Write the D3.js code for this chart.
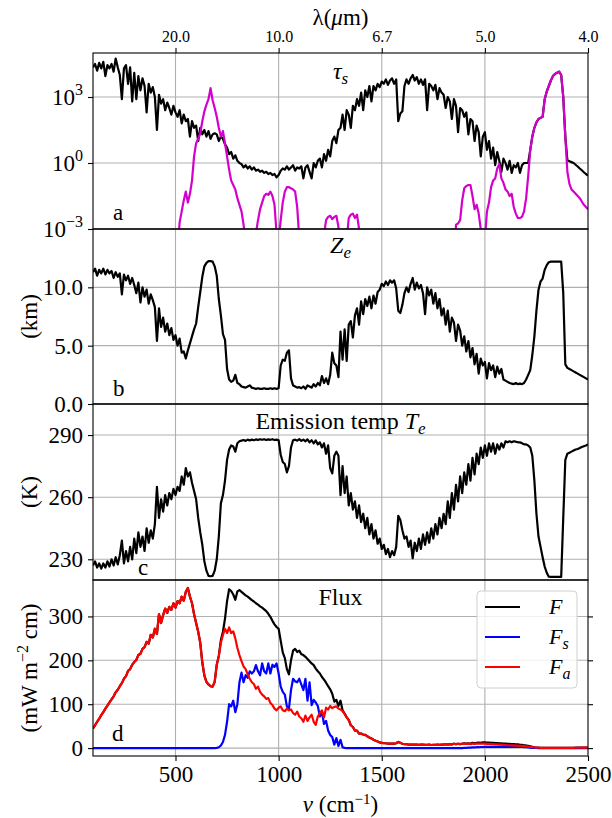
<!DOCTYPE html>
<html>
<head>
<meta charset="utf-8">
<script src="https://cdn.jsdelivr.net/npm/d3@7"></script>
<style>
  body { margin: 0; background: #fff; }
  svg { display: block; }
</style>
</head>
<body>
<div id="chart"></div>
<script>
// wavenumber grid (cm^-1), one value every 10 cm^-1
const wavenumber = d3.range(100, 2501, 10);

// panel a: log10 of optical depth, total (black) and the magenta band
const tauSLog = [
  4.35, 4.5, 4.2, 4.55, 4.3, 4.6, 3.95, 4.45, 4.3, 4.5,
  4.15, 4.75, 4.35, 4.0, 2.9, 4.3, 4.45, 3.6, 4.35, 2.8,
  4.1, 2.9, 3.95, 3.3, 3.85, 3.5, 2.3, 3.6, 3.2, 3.45,
  3.0, 1.5, 3.1, 2.7, 2.9, 2.4, 2.75, 2.5, 2.2, 2.6,
  2.3, 2.1, 2.4, 1.8, 2.2, 1.9, 2.0, 1.2, 1.9, 1.6,
  1.7, 1.0, 1.6, 1.3, 1.5, 1.2, 1.45, 1.1, 1.3, 1.35,
  1.3, 1.0, 1.2, 1.1, 0.85, 0.7, 0.4, 0.5, 0.2, 0.35,
  0.1, 0.0, -0.05, -0.2, -0.1, -0.25, -0.15, -0.3, -0.2, -0.35,
  -0.3, -0.4, -0.35, -0.45, -0.4, -0.5, -0.45, -0.55, -0.5, -0.65,
  -0.55, -0.35, -0.25, -0.3, -0.15, -0.3, -0.2, -0.1, -0.35, -0.2,
  -0.25, -0.15, -0.7, -0.2, -0.1, -0.4, -0.7, 0.0, -0.2, 0.1,
  0.2, -0.2, 0.4, 0.1, 0.6, 0.3, 1.0, 1.2, 0.9, 1.5,
  1.6, 2.2, 1.5, 2.4, 2.2, 1.6, 2.6, 2.4, 2.9, 2.6,
  3.2, 2.4, 3.3, 3.0, 3.5, 2.8, 3.5, 3.3, 3.6, 3.45,
  3.7, 3.6, 3.8, 3.55, 3.75, 3.85, 3.6, 3.8, 1.9, 2.25,
  2.35, 3.5, 3.8, 3.6, 3.85, 4.0, 3.75, 3.9, 3.6, 3.8,
  3.55, 3.8, 2.4, 3.6, 3.5, 3.3, 3.55, 2.9, 3.4, 3.2,
  3.1, 2.5, 3.0, 2.8, 2.0, 2.9, 2.6, 1.4, 2.5, 2.4,
  2.1, 2.3, 1.3, 2.0, 1.9, 1.0, 1.7, 1.4, 0.3, 1.2,
  1.4, 0.6, 1.0, 0.2, 0.7, -0.1, 0.5, 0.1, -0.4, 0.2,
  0.0, -0.3, 0.1, -0.45, -0.1, -0.2, 0.0, -0.45, -0.1, 0.0,
  0.0, 0.0, 0.6, 1.2, 1.6, 1.85, 2.0, 2.05, 2.1, 2.9,
  3.25, 3.5, 3.75, 3.95, 4.05, 4.1, 4.15, 4.0, 3.0, 1.2,
  0.12, 0.08, 0.04, 0.0, -0.08, -0.16, -0.25, -0.33, -0.42, -0.5,
  -0.57
];

const tauMLog = [
  -6, -6, -6, -6, -6, -6, -6, -6, -6, -6,
  -6, -6, -6, -6, -6, -6, -6, -6, -6, -6,
  -6, -6, -6, -6, -6, -6, -6, -6, -6, -6,
  -6, -6, -6, -6, -6, -6, -6, -6, -6, -6,
  -6, -4, -2.7, -2.2, -1.7, -1.3, -1.8, -1.4, -0.8, 0.3,
  0.9, 1.1, 1.35, 1.9, 2.35, 2.65, 2.9, 3.4, 2.85, 2.5,
  2.1, 1.6, 1.2, 1.45, 0.9, 0.3, -0.3, -0.8, -1.0, -1.2,
  -1.6, -1.9, -2.2, -2.8, -3.6, -6, -6, -6, -6, -3.2,
  -2.6, -2.1, -1.8, -1.5, -1.4, -1.45, -1.3, -1.5, -1.9, -3.2,
  -3.5, -2.6, -1.8, -1.3, -1.1, -1.1, -1.15, -1.2, -1.3, -2.0,
  -3.4, -6, -6, -6, -6, -6, -6, -6, -6, -6,
  -6, -6, -3.3, -2.6, -2.45, -2.4, -2.55, -2.45, -2.4, -2.9,
  -4, -6, -6, -3.5, -2.5, -2.35, -2.3, -2.5, -2.35, -3.0,
  -6, -6, -6, -6, -6, -6, -6, -6, -6, -6,
  -6, -6, -6, -6, -6, -6, -6, -6, -6, -6,
  -6, -6, -6, -6, -6, -6, -6, -6, -6, -6,
  -6, -6, -6, -6, -6, -6, -6, -6, -6, -6,
  -6, -6, -6, -6, -6, -6, -2.8, -2.75, -2.6, -1.7,
  -1.15, -1.05, -1.0, -1.0, -1.5, -2.1, -1.9, -2.3, -3.0, -4,
  -3.5, -2.2, -1.8, -1.1, -0.8, -0.7, -0.25, -0.05, -0.7, -0.9,
  -1.2, -1.3, -1.5, -1.4, -2.0, -2.3, -2.5, -2.5, -2.45, -2.2,
  -1.6, -0.6, 0.6, 1.2, 1.6, 1.85, 2.0, 2.05, 2.1, 2.9,
  3.25, 3.5, 3.75, 3.95, 4.05, 4.1, 4.15, 4.0, 3.0, 1.2,
  -0.4, -0.95, -1.2, -1.3, -1.4, -1.5, -1.6, -1.75, -1.9, -2.0,
  -2.1
];

// panel b: emission height (km)
const zEmit = [
  11.3, 11.6, 11.0, 11.5, 11.2, 11.6, 11.1, 11.5, 11.2, 11.4,
  10.8, 11.3, 10.9, 11.2, 9.4, 11.1, 10.6, 11.0, 10.3, 10.8,
  10.2, 9.5, 10.4, 8.7, 10.0, 9.2, 9.8, 8.6, 9.4, 8.9,
  8.3, 5.4, 8.2, 6.6, 7.4, 6.2, 6.9, 5.9, 6.5, 5.5,
  5.9, 5.0, 5.6, 4.4, 4.5, 3.9, 4.6, 5.2, 5.8, 6.4,
  6.9, 8.3, 9.6, 10.9, 11.8, 12.1, 12.25, 12.25, 12.2, 11.8,
  11.0, 9.0, 7.6, 6.0, 5.5, 3.0, 2.1, 1.9, 2.0, 2.5,
  1.8, 1.7, 1.5, 1.45, 1.4, 1.5, 1.6, 1.4, 1.35, 1.3,
  1.35, 1.3, 1.3, 1.35, 1.3, 1.3, 1.35, 1.3, 1.35, 1.3,
  1.35, 3.3, 3.8, 3.7, 4.4, 4.6, 2.2, 1.6, 1.5, 1.4,
  1.45, 1.35, 1.5, 1.3, 1.6, 1.5, 1.4, 1.7, 1.5, 1.8,
  1.6, 2.4, 1.8, 2.2, 1.7, 2.5, 4.4, 3.5, 3.3, 2.3,
  6.2, 3.8, 6.4, 3.7, 6.8, 7.1, 5.7, 7.6, 8.2, 6.8,
  8.8, 7.7, 9.0, 8.4, 9.2, 8.2, 9.3, 8.6, 9.6, 9.8,
  10.3, 10.1, 10.5, 10.2, 10.6, 10.4, 10.6, 9.9, 8.0, 7.8,
  8.5, 9.5, 10.0, 9.6, 10.3, 10.8, 9.8, 10.4, 9.9, 10.2,
  9.5, 7.7, 10.0, 9.3, 9.8, 8.6, 9.5, 8.2, 9.0, 7.6,
  8.2, 6.8, 8.0, 6.2, 7.4, 7.0, 5.4, 6.8, 6.3, 5.0,
  5.8, 4.5, 5.4, 4.0, 4.8, 3.4, 4.3, 2.6, 3.9, 3.3,
  3.6, 2.2, 3.5, 2.9, 3.3, 2.3, 3.2, 2.6, 3.0, 2.1,
  2.0, 1.9, 1.8, 1.75, 1.7, 1.8, 1.7, 1.75, 1.7, 1.8,
  2.1, 2.5, 2.9, 4.2, 5.8, 8.0, 9.8, 10.5, 10.75, 11.5,
  11.9, 12.15, 12.2, 12.2, 12.2, 12.2, 12.2, 12.2, 9.5, 3.4,
  3.1, 3.0, 2.9, 2.8, 2.7, 2.6, 2.5, 2.4, 2.3, 2.2,
  2.1
];

// panel c: emission temperature (K)
const tEmit = [
  227, 229, 226, 228, 225.5, 228, 226, 229, 226.5, 230,
  227, 231, 227.5, 232, 239, 228, 234, 229, 236, 230,
  240, 233, 243, 236, 241, 234, 245, 238, 244, 240,
  247, 265, 250, 259, 253, 261, 256, 262, 259, 264,
  261, 265, 263, 270, 266, 274, 270, 272, 267, 263,
  259, 250, 243, 237, 229, 224.5, 222, 221.8, 222, 224.5,
  230, 241, 257, 261, 268, 278, 283, 285, 284.5, 282,
  286, 287, 287.3, 287.6, 287.2, 287.8, 287.4, 287.8, 287.5, 287.9,
  287.6, 288, 287.7, 288, 287.6, 287.9, 287.7, 288, 287.6, 287.8,
  287.5, 280.5, 277, 276, 272, 275, 284, 287.5, 287.8, 287.3,
  288, 287.2, 287.8, 287, 287.9, 286.5, 287.5, 286, 287.4, 285.5,
  286.5, 284, 286, 281, 285, 274, 271.5, 280, 282, 280,
  261, 275, 262, 270, 256, 262, 254, 258, 250, 256,
  248, 252, 245, 250, 242, 247, 240, 244, 237.5, 240,
  235, 237, 232.5, 235, 231, 234, 232, 236, 251, 249,
  244, 240, 241, 236, 239, 230.5, 238, 234, 240, 235,
  242, 237, 243, 238, 245, 240, 247, 242, 250, 245,
  252, 247, 258, 250, 262, 254, 266, 258, 270, 262,
  272, 266, 276, 268, 279, 271, 281, 276, 284, 279,
  285, 280, 286, 282, 286, 281, 285.5, 283, 286, 284,
  287, 286.5, 287, 286.5, 287, 286.8, 286.5, 286.5, 286, 285.5,
  285.5, 285, 284, 280, 268, 252, 241, 236, 231, 226.5,
  223.5, 221.6, 221.5, 221.5, 221.5, 221.5, 221.5, 221.5, 250, 278,
  281, 281.5, 282, 282.5, 283, 283.3, 283.7, 284.2, 284.6, 285,
  285.5
];

// panel d: fluxes (mW m^-2 cm)
const fluxTotal = [
  45, 52, 60, 67, 75, 82, 90, 97, 104, 111,
  118, 127, 133, 141, 148, 158, 164, 176, 180, 190,
  196, 201, 212, 215, 226, 230, 242, 238, 258, 252,
  272, 260, 305, 285, 303, 318, 308, 322, 315, 330,
  320, 335, 330, 345, 336, 356, 365, 345, 330, 305,
  285, 265, 240, 195, 165, 151, 145, 141, 140, 151,
  190, 210, 246, 265, 295, 335, 362, 358, 350, 338,
  357, 360, 356, 352, 348, 345, 341, 337, 334, 330,
  327, 323, 320, 316, 312, 306, 299, 290, 282, 276,
  272, 245, 218, 205, 180, 168, 200, 222, 226, 219,
  222, 214, 212, 208, 203, 198, 193, 189, 181, 175,
  170, 162, 156, 149, 141, 134, 124, 106, 110, 96,
  108, 86, 78.5, 70, 64, 52, 48, 40, 40, 33,
  33, 31, 30, 27, 24, 22, 19, 17, 15, 13,
  12, 11, 11, 10, 10, 10, 10, 11, 14, 12,
  10, 9, 9, 8, 8, 8, 8, 8, 7.5, 8,
  8, 7.5, 7.5, 8, 7, 7.5, 7.5, 8, 7.5, 8,
  8, 9, 8, 9, 8.5, 10, 9, 10, 9, 10,
  11, 10.5, 11, 10.5, 12, 11, 12, 12.5, 12, 13,
  13, 12.5, 12.5, 12, 12, 11.5, 11.5, 11, 11, 10.5,
  10, 9.5, 9.5, 9, 9, 8.5, 8.5, 7.5, 7.5, 6.5,
  6, 5, 4, 3, 1.8, 1.2, 0.9, 0.7, 0.6, 0.6,
  0.6, 0.6, 0.6, 0.6, 0.6, 0.6, 0.6, 0.6, 0.6, 0.6,
  0.7, 0.7, 0.8, 0.8, 0.9, 0.9, 1, 1, 1.1, 1.1,
  1.1
];

const fluxSurface = [
  0, 0, 0, 0, 0, 0, 0, 0, 0, 0,
  0, 0, 0, 0, 0, 0, 0, 0, 0, 0,
  0, 0, 0, 0, 0, 0, 0, 0, 0, 0,
  0, 0, 0, 0, 0, 0, 0, 0, 0, 0,
  0, 0, 0, 0, 0, 0, 0, 0, 0, 0,
  0, 0, 0, 0, 0, 0, 0, 0, 0, 0,
  0.5, 2, 6, 14, 30, 60, 100, 95, 108, 82,
  100, 150, 172, 150, 166, 160, 175, 170, 175, 189,
  175, 166, 193, 175, 170, 193, 170, 190, 185, 193,
  170, 140, 128, 122, 95, 90, 132, 158, 152, 150,
  158, 145, 132, 158, 108, 150, 98, 110, 104, 96,
  72, 82, 55, 62, 40, 30, 25, 8, 23, 5,
  19, 2, 0.5, 0, 0, 0, 0, 0, 0, 0,
  0, 0, 0, 0, 0, 0, 0, 0, 0, 0,
  0, 0, 0, 0, 0, 0, 0, 0, 0, 0,
  0, 0, 0, 0, 0, 0, 0, 0, 0, 0,
  0, 0, 0, 0, 0, 0, 0, 0, 0, 0,
  0, 0, 0, 0, 0, 0, 0, 0, 0, 0,
  0.5, 0.5, 1, 1, 1.5, 1.5, 2, 2, 2.5, 2.5,
  3, 3, 3, 3, 3, 3, 3, 3, 3, 3,
  3, 3, 3, 3, 3, 3, 3, 2.5, 2.5, 2,
  2, 1.5, 1, 0.5, 0.3, 0.2, 0.1, 0.1, 0.1, 0.1,
  0.1, 0.1, 0.1, 0.1, 0.1, 0.1, 0.1, 0.1, 0.1, 0.1,
  0.1, 0.1, 0.1, 0.1, 0.1, 0.1, 0.1, 0.1, 0.1, 0.1,
  0.1
];

const fluxAtmos = [
  45, 52, 60, 67, 75, 82, 90, 97, 104, 111,
  118, 127, 133, 141, 148, 158, 164, 176, 180, 190,
  196, 201, 212, 215, 226, 230, 242, 238, 258, 252,
  272, 260, 305, 285, 303, 318, 308, 322, 315, 330,
  320, 335, 330, 345, 336, 356, 365, 345, 330, 305,
  285, 265, 240, 195, 165, 151, 145, 141, 140, 151,
  190, 210, 240, 258, 272, 262, 275, 262, 266, 250,
  228, 212, 198, 186, 180, 168, 158, 150, 146, 135,
  140, 128, 122, 118, 112, 114, 103, 98, 90, 86,
  92, 95, 86, 84, 90, 86, 88, 80, 76, 83,
  72, 68, 60, 74, 62, 70, 76, 60, 53, 72,
  80, 86, 70, 92, 88, 96, 91, 94, 95, 90,
  88, 84, 78, 70, 64, 52, 48, 40, 40, 33,
  33, 31, 30, 27, 24, 22, 19, 17, 15, 13,
  12, 11, 11, 10, 10, 10, 10, 11, 14, 12,
  10, 9, 9, 8, 8, 8, 8, 8, 7.5, 8,
  8, 7.5, 7.5, 8, 7, 7.5, 7.5, 8, 7.5, 8,
  8, 9, 8, 9, 8.5, 10, 9, 10, 9, 10,
  10, 9.5, 10, 9, 10.5, 9.5, 10, 10.5, 10, 10.5,
  10, 9.5, 9.5, 9, 9, 8.5, 8.5, 8, 8, 7.5,
  7, 6.5, 6.5, 6, 6, 5.5, 5.5, 5, 5, 4.5,
  4, 3.5, 3, 2.5, 1.5, 1, 0.8, 0.6, 0.5, 0.5,
  0.5, 0.5, 0.5, 0.5, 0.5, 0.5, 0.5, 0.5, 0.5, 0.5,
  0.6, 0.6, 0.7, 0.7, 0.8, 0.8, 0.9, 0.9, 1, 1,
  1
];

// tick values
const xTicks = [500, 1000, 1500, 2000, 2500];
const tauTicks = [1e-3, 1, 1e3];
const tauTickExp = ["\u22123", "0", "3"];
const zTicks = [0, 5, 10];
const tTicks = [230, 260, 290];
const fluxTicks = [0, 100, 200, 300];

const serif = "'Liberation Serif', 'DejaVu Serif', serif";
const W = 612, H = 818;
const left = 93, right = 588;
const tickFont = 23;

const svg = d3.select("#chart").append("svg")
  .attr("width", W).attr("height", H)
  .style("font-family", serif);

svg.append("rect").attr("width", W).attr("height", H).attr("fill", "#fff");

const x = d3.scaleLinear().domain([100, 2500]).range([left, right]);

const yA = d3.scaleLog().domain([1e-3, 1e5]).range([229, 53]);
const yB = d3.scaleLinear().domain([0, 15]).range([404, 229]);
const yC = d3.scaleLinear().domain([220, 305]).range([580, 404]);
const yD = d3.scaleLinear().domain([-18, 383]).range([756, 580]);

const panels = [
  { id: "a", y: yA, ticks: tauTicks },
  { id: "b", y: yB, ticks: zTicks },
  { id: "c", y: yC, ticks: tTicks },
  { id: "d", y: yD, ticks: fluxTicks }
];

const defs = svg.append("defs");

panels.forEach(p => {
  const [bot, top] = p.y.range();
  p.top = top; p.bot = bot;

  defs.append("clipPath").attr("id", "clip-" + p.id)
    .append("rect")
    .attr("x", left).attr("y", top)
    .attr("width", right - left).attr("height", bot - top);

  // grid
  const g = svg.append("g");
  g.selectAll(".vg").data(xTicks.slice(0, 4)).join("line")
    .attr("x1", d => x(d)).attr("x2", d => x(d))
    .attr("y1", top).attr("y2", bot)
    .attr("stroke", "#b0b0b0").attr("stroke-width", 1.1);
  g.selectAll(".hg").data(p.ticks).join("line")
    .attr("x1", left).attr("x2", right)
    .attr("y1", d => p.y(d)).attr("y2", d => p.y(d))
    .attr("stroke", "#b0b0b0").attr("stroke-width", 1.1);

  p.plot = svg.append("g").attr("clip-path", `url(#clip-${p.id})`);
});

function drawLine(p, values, color, width) {
  const line = d3.line()
    .x((d, i) => x(wavenumber[i]))
    .y(d => p.y(d));
  p.plot.append("path")
    .datum(values)
    .attr("d", line)
    .attr("fill", "none")
    .attr("stroke", color)
    .attr("stroke-width", width)
    .attr("stroke-linejoin", "round");
}

drawLine(panels[0], tauSLog.map(v => Math.pow(10, v)), "#000", 2.2);
drawLine(panels[0], tauMLog.map(v => Math.pow(10, v)), "#d400cc", 2.2);
drawLine(panels[1], zEmit, "#000", 2.2);
drawLine(panels[2], tEmit, "#000", 2.2);
drawLine(panels[3], fluxTotal, "#000", 2.2);
drawLine(panels[3], fluxSurface, "#0000ff", 2.2);
drawLine(panels[3], fluxAtmos, "#ff0000", 2.2);

// spines
panels.forEach(p => {
  svg.append("rect")
    .attr("x", left).attr("y", p.top)
    .attr("width", right - left).attr("height", p.bot - p.top)
    .attr("fill", "none").attr("stroke", "#000").attr("stroke-width", 1.1);
});

function styleAxis(g, size) {
  g.attr("font-family", serif).attr("font-size", size);
  g.select(".domain").remove();
  g.selectAll(".tick line").attr("stroke", "#000").attr("stroke-width", 1.1);
  g.selectAll(".tick text").attr("fill", "#000");
}

// y axes
const axA = svg.append("g").attr("transform", `translate(${left},0)`)
  .call(d3.axisLeft(yA).tickValues(tauTicks).tickSize(5).tickPadding(5).tickFormat(() => ""));
styleAxis(axA, tickFont);
axA.selectAll(".tick text").each(function(d, i) {
  const t = d3.select(this);
  t.append("tspan").text("10");
  t.append("tspan").attr("dy", -10).attr("font-size", 16).text(tauTickExp[i]);
});

const axB = svg.append("g").attr("transform", `translate(${left},0)`)
  .call(d3.axisLeft(yB).tickValues(zTicks).tickSize(5).tickPadding(5).tickFormat(d3.format(".1f")));
styleAxis(axB, tickFont);

const axC = svg.append("g").attr("transform", `translate(${left},0)`)
  .call(d3.axisLeft(yC).tickValues(tTicks).tickSize(5).tickPadding(5));
styleAxis(axC, tickFont);

const axD = svg.append("g").attr("transform", `translate(${left},0)`)
  .call(d3.axisLeft(yD).tickValues(fluxTicks).tickSize(5).tickPadding(5));
styleAxis(axD, tickFont);

const axDr = svg.append("g").attr("transform", `translate(${right},0)`)
  .call(d3.axisRight(yD).tickValues(fluxTicks).tickSize(5).tickFormat(() => ""));
styleAxis(axDr, tickFont);

// bottom axis
const axX = svg.append("g").attr("transform", `translate(0,${yD.range()[0]})`)
  .call(d3.axisBottom(x).tickValues(xTicks).tickSize(5).tickPadding(5).tickFormat(d3.format("d")));
styleAxis(axX, tickFont);

// top axis: wavelength in micrometres
const axTop = svg.append("g").attr("transform", `translate(0,${yA.range()[1]})`)
  .call(d3.axisTop(x).tickValues(xTicks).tickSize(5).tickPadding(6)
    .tickFormat(d => (1e4 / d).toFixed(1)));
styleAxis(axTop, 16);

// axis titles
const cx = (left + right) / 2;
const lam = svg.append("text").attr("x", cx).attr("y", 25)
  .attr("text-anchor", "middle").attr("font-size", 23);
lam.append("tspan").text("\u03bb(");
lam.append("tspan").attr("font-style", "italic").text("\u03bc");
lam.append("tspan").text("m)");

const nuLab = svg.append("text").attr("x", cx).attr("y", 812)
  .attr("text-anchor", "middle").attr("font-size", 23);
nuLab.append("tspan").attr("font-style", "italic").text("\u03bd");
nuLab.append("tspan").text(" (cm");
nuLab.append("tspan").attr("dy", -8).attr("font-size", 15).text("\u22121");
nuLab.append("tspan").attr("dy", 8).text(")");

function yLabel(cy, build) {
  const t = svg.append("text")
    .attr("transform", `translate(37,${cy}) rotate(-90)`)
    .attr("text-anchor", "middle").attr("font-size", 23);
  build(t);
}
yLabel((yB.range()[0] + yB.range()[1]) / 2, t => t.text("(km)"));
yLabel((yC.range()[0] + yC.range()[1]) / 2, t => t.text("(K)"));
yLabel((yD.range()[0] + yD.range()[1]) / 2, t => {
  t.append("tspan").text("(mW m");
  t.append("tspan").attr("dy", -9).attr("font-size", 16).text("\u22122");
  t.append("tspan").attr("dy", 9).text(" cm)");
});

// panel titles
const tA = svg.append("text").attr("x", cx).attr("y", 79)
  .attr("text-anchor", "middle").attr("font-size", 24);
tA.append("tspan").attr("font-style", "italic").text("\u03c4");
tA.append("tspan").attr("dy", 5).attr("font-size", 17).attr("font-style", "italic").text("s");

const tB = svg.append("text").attr("x", cx).attr("y", 253)
  .attr("text-anchor", "middle").attr("font-size", 24);
tB.append("tspan").attr("font-style", "italic").text("Z");
tB.append("tspan").attr("dy", 5).attr("font-size", 17).attr("font-style", "italic").text("e");

const tC = svg.append("text").attr("x", cx).attr("y", 429)
  .attr("text-anchor", "middle").attr("font-size", 24);
tC.append("tspan").text("Emission temp ");
tC.append("tspan").attr("font-style", "italic").text("T");
tC.append("tspan").attr("dy", 5).attr("font-size", 17).attr("font-style", "italic").text("e");

svg.append("text").attr("x", cx).attr("y", 605)
  .attr("text-anchor", "middle").attr("font-size", 24).text("Flux");

// panel letters
const letters = [
  { s: "a", x: 113, y: 220 },
  { s: "b", x: 113, y: 396 },
  { s: "c", x: 138, y: 575 },
  { s: "d", x: 112, y: 741 }
];
svg.selectAll(".letter").data(letters).join("text")
  .attr("x", d => d.x).attr("y", d => d.y)
  .attr("font-size", 23).text(d => d.s);

// legend
const legend = svg.append("g");
legend.append("rect")
  .attr("x", 477).attr("y", 591).attr("width", 100).attr("height", 97)
  .attr("rx", 4).attr("fill", "#fff").attr("fill-opacity", 0.8)
  .attr("stroke", "#d0d0d0").attr("stroke-width", 1);
const legItems = [
  { c: "#000", main: "F", sub: "" },
  { c: "#0000ff", main: "F", sub: "s" },
  { c: "#ff0000", main: "F", sub: "a" }
];
legItems.forEach((d, i) => {
  const yy = 607 + i * 30;
  legend.append("line").attr("x1", 485).attr("x2", 520)
    .attr("y1", yy).attr("y2", yy)
    .attr("stroke", d.c).attr("stroke-width", 2.2);
  const t = legend.append("text").attr("x", 549).attr("y", yy + 7)
    .attr("font-size", 22).attr("font-style", "italic");
  t.append("tspan").text(d.main);
  if (d.sub) t.append("tspan").attr("dy", 5).attr("font-size", 16).text(d.sub);
});
</script>
</body>
</html>
